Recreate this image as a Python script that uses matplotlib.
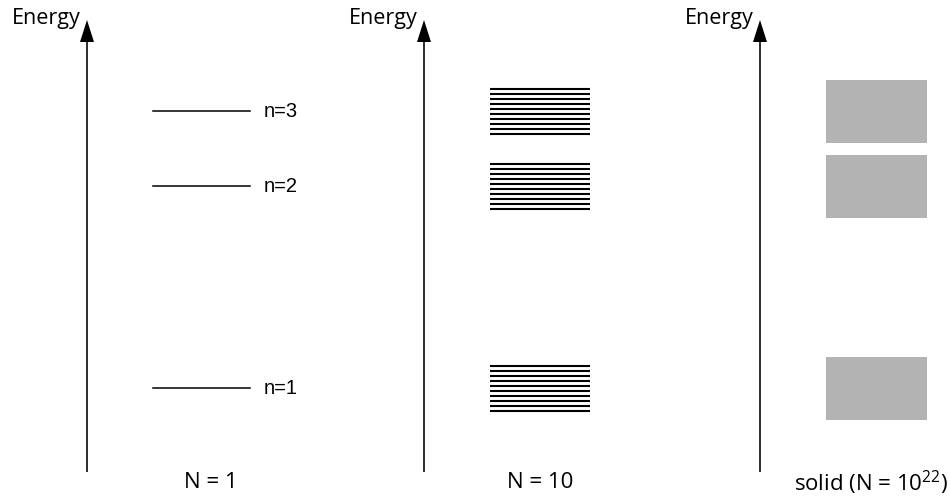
import matplotlib.pyplot as plt
from matplotlib.patches import Rectangle

plt.rcParams["font.family"] = ["Open Sans", "DejaVu Sans"]
plt.rcParams["mathtext.fontset"] = "custom"
plt.rcParams["mathtext.rm"] = "Open Sans"

# energies of the single-atom levels (vertical units, bottom = 0)
levels = [111, 313, 388]
level_labels = ["n=1", "n=2", "n=3"]
# splitting of each level for N = 10 atoms
split_offsets = [-22.5, -17.5, -12.5, -7.5, -2.5, 2.5, 7.5, 12.5, 17.5, 22.5]
# full band height in the solid
band_height = 63
panel_titles = ["N = 1", "N = 10", "solid (N = 10$^{22}$)"]

axis_x = [87, 424, 760]
level_x = [(153, 250), (490, 590), (826, 927)]
title_x = [211, 540, 871]
band_color = "#b3b3b3"

fig = plt.figure(figsize=(9.5, 4.99), dpi=100)
ax = fig.add_axes([0, 0, 1, 1])
ax.set_xlim(0, 950)
ax.set_ylim(0, 499)
ax.axis("off")

for i, x in enumerate(axis_x):
    ax.arrow(x, 27, 0, 452, width=1.6, head_width=14, head_length=22,
             length_includes_head=True, fc="black", ec="black", lw=0)
    ax.text(x - 6, 481, "Energy", ha="right", va="center", fontsize=15.5)
    ax.text(title_x[i], 16, panel_titles[i],
            ha="center", va="center", fontsize=16)

# N = 1: single levels
x0, x1 = level_x[0]
for e, lab in zip(levels, level_labels):
    ax.plot([x0, x1], [e, e], color="black", lw=1.1)
    ax.text(x1 + 14, e, lab, ha="left", va="center", fontsize=14.5,
            family=["Liberation Sans", "DejaVu Sans"])

# N = 10: split levels
x0, x1 = level_x[1]
for e in levels:
    for d in split_offsets:
        ax.plot([x0, x1], [e + d, e + d], color="black", lw=1.5,
                solid_capstyle="butt")

# solid: bands
x0, x1 = level_x[2]
for e in levels:
    ax.add_patch(Rectangle((x0, e - band_height / 2), x1 - x0, band_height,
                           facecolor=band_color, edgecolor="none"))

fig.savefig("out.png", dpi=100)
